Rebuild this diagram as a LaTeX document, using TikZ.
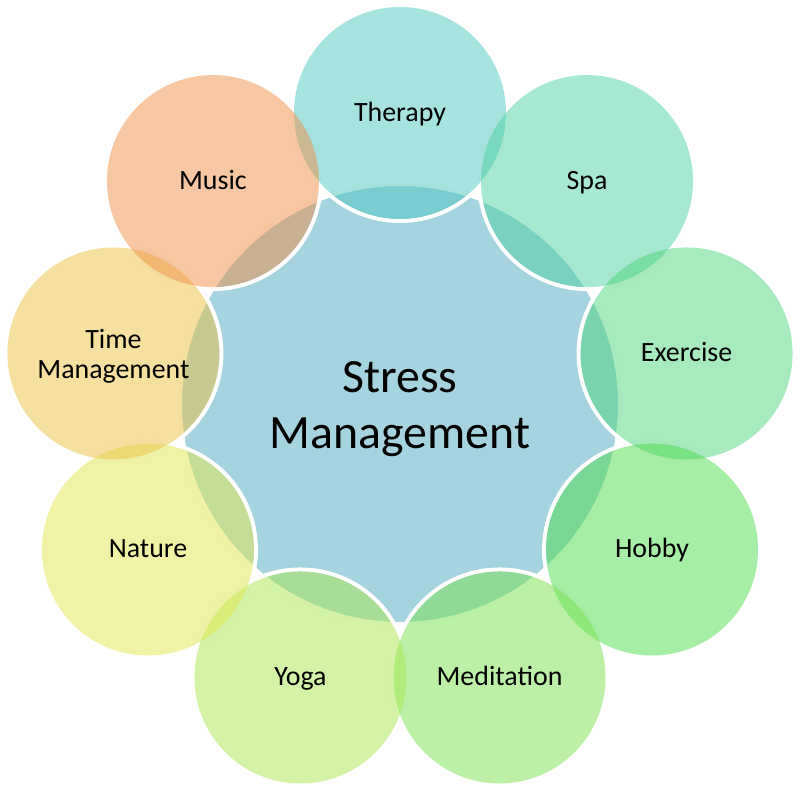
\documentclass[tikz,border=0pt]{standalone}
\usepackage{fontspec}
\setmainfont{Carlito}
\definecolor{cCenter}{RGB}{166,211,224}
\definecolor{cTherapy}{RGB}{77,199,191}
\definecolor{cSpa}{RGB}{77,209,161}
\definecolor{cExercise}{RGB}{77,213,125}
\definecolor{cHobby}{RGB}{77,219,77}
\definecolor{cMeditation}{RGB}{119,225,77}
\definecolor{cYoga}{RGB}{169,231,77}
\definecolor{cNature}{RGB}{225,231,77}
\definecolor{cTime}{RGB}{235,193,65}
\definecolor{cMusic}{RGB}{239,143,71}
\tikzset{
  ring/.style={draw=white, line width=2.85pt},
  bubble/.style={fill opacity=0.5},
  lab/.style={font=\fontsize{19.85}{21.8}\selectfont, text=black, inner sep=0pt},
  biglab/.style={font=\fontsize{34}{39.7}\selectfont, text=black, inner sep=0pt}
}
\begin{document}
\begin{tikzpicture}
\useasboundingbox (-10,-9.725) rectangle (10,10.1);
\coordinate (c0) at (0,0);
\foreach \i in {1,...,9}{
  \coordinate (c\i) at ({130-40*\i}:7.275);
}
% central circle
\fill[cCenter] (c0) circle (5.5);
\draw[ring] (c0) circle (5.5);
% white rims of the outer circles
\foreach \i in {1,...,9}{
  \draw[ring] (c\i) circle (2.7);
}
% translucent fills of the outer circles
\foreach \i/\c in {1/cTherapy,2/cSpa,3/cExercise,4/cHobby,5/cMeditation,6/cYoga,7/cNature,8/cTime,9/cMusic}{
  \fill[bubble, \c] (c\i) circle (2.65);
}
% labels
\node[biglab, align=center] (t0) at ([yshift=-0.125cm]c0) {Stress\\Management};
\node[lab, anchor=base] (t1) at ([yshift=-0.21cm]c1) {Therapy};
\node[lab, anchor=base] (t2) at ([yshift=-0.21cm]c2) {Spa};
\node[lab, anchor=base] (t3) at ([yshift=-0.21cm]c3) {Exercise};
\node[lab, anchor=base] (t4) at ([yshift=-0.21cm]c4) {Hobby};
\node[lab, anchor=base] (t5) at ([yshift=-0.21cm]c5) {Meditation};
\node[lab, anchor=base] (t6) at ([yshift=-0.21cm]c6) {Yoga};
\node[lab, anchor=base] (t7) at ([yshift=-0.21cm]c7) {Nature};
\node[lab, align=center] (t8) at ([yshift=-0.07cm]c8) {Time\\Management};
\node[lab, anchor=base] (t9) at ([yshift=-0.21cm]c9) {Music};
\end{tikzpicture}
\end{document}
